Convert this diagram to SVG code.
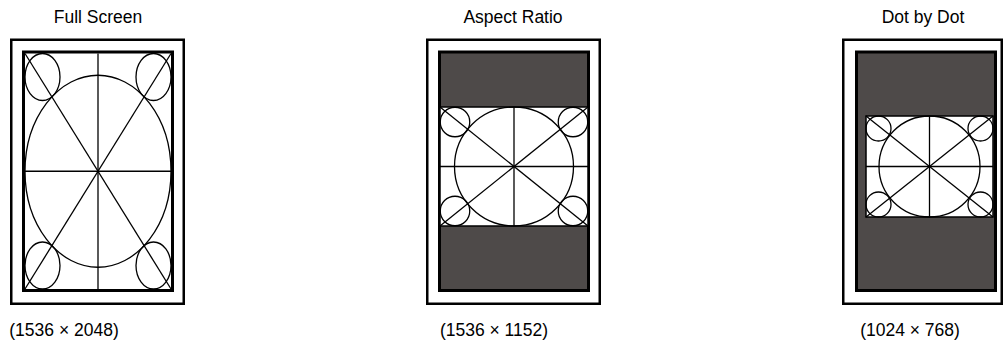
<svg xmlns="http://www.w3.org/2000/svg" width="1006" height="347" viewBox="0 0 1006 347">
<style>
.frame{fill:#fff;stroke:#000;stroke-width:2.5}
.screen{fill:#fff;stroke:#000;stroke-width:3}
.dark{fill:#4e4a49;stroke:#000;stroke-width:3}
.pic{fill:#fff;stroke:#000;stroke-width:1.5}
.ln{fill:none;stroke:#000;stroke-width:1.3}
.t{font-family:"Liberation Sans",Arial,sans-serif;font-size:17.5px;fill:#000;text-anchor:middle}
</style>
<rect width="1006" height="347" fill="#fff"/>
<g id="full-screen">
<text class="t" x="98" y="23">Full Screen</text>
<rect class="frame" x="11.25" y="39.75" width="172.5" height="264"/>
<rect class="screen" x="23.5" y="52" width="149" height="238.5"/>
<g class="ln">
<line x1="98" y1="53.5" x2="98" y2="289"/>
<line x1="25" y1="171.25" x2="171" y2="171.25"/>
<line x1="25" y1="53.5" x2="171" y2="289"/>
<line x1="171" y1="53.5" x2="25" y2="289"/>
<ellipse cx="98" cy="171.25" rx="73" ry="96"/>
<ellipse cx="42.5" cy="77" rx="17.5" ry="23.5"/>
<ellipse cx="153.5" cy="77" rx="17.5" ry="23.5"/>
<ellipse cx="42.5" cy="265.5" rx="17.5" ry="23.5"/>
<ellipse cx="153.5" cy="265.5" rx="17.5" ry="23.5"/>
</g>
<text class="t" x="64" y="336">(1536 × 2048)</text>
</g>
<g id="aspect-ratio">
<text class="t" x="513" y="23">Aspect Ratio</text>
<rect class="frame" x="427.25" y="39.75" width="172.5" height="264"/>
<rect class="dark" x="439.5" y="52" width="149" height="238.5"/>
<rect class="pic" x="440" y="107" width="148" height="119"/>
<g class="ln">
<line x1="514" y1="107" x2="514" y2="226"/>
<line x1="440" y1="166.5" x2="588" y2="166.5"/>
<line x1="440" y1="107" x2="588" y2="226"/>
<line x1="588" y1="107" x2="440" y2="226"/>
<circle cx="514" cy="166.5" r="59.5"/>
<circle cx="455" cy="122" r="14.75"/>
<circle cx="573" cy="122" r="14.75"/>
<circle cx="455" cy="211" r="14.75"/>
<circle cx="573" cy="211" r="14.75"/>
</g>
<text class="t" x="494" y="336">(1536 × 1152)</text>
</g>
<g id="dot-by-dot">
<text class="t" x="923" y="23">Dot by Dot</text>
<rect class="frame" x="843.25" y="39.75" width="158.5" height="264"/>
<rect class="dark" x="856.5" y="52" width="139" height="238.5"/>
<rect class="pic" x="866" y="116" width="127" height="101"/>
<g class="ln">
<line x1="929.5" y1="116" x2="929.5" y2="217"/>
<line x1="866" y1="166.5" x2="993" y2="166.5"/>
<line x1="866" y1="116" x2="993" y2="217"/>
<line x1="993" y1="116" x2="866" y2="217"/>
<circle cx="929.5" cy="166.5" r="50.5"/>
<circle cx="878.5" cy="128.5" r="12.5"/>
<circle cx="980.5" cy="128.5" r="12.5"/>
<circle cx="878.5" cy="204.5" r="12.5"/>
<circle cx="980.5" cy="204.5" r="12.5"/>
</g>
<text class="t" x="910" y="336">(1024 × 768)</text>
</g>
</svg>
